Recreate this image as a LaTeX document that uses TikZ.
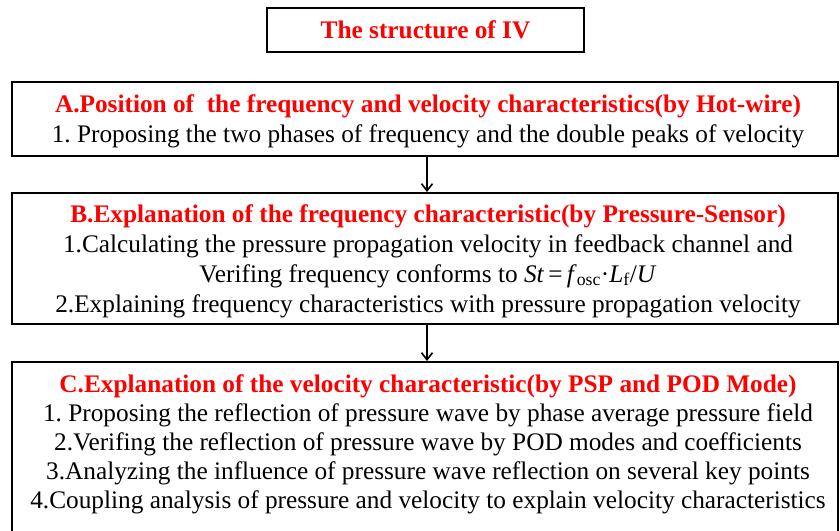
\documentclass[tikz,border=0pt]{standalone}
\usepackage{fontspec}
\setmainfont{Liberation Serif}
\usetikzlibrary{arrows.meta}
\definecolor{hred}{RGB}{255,0,0}
\tikzset{
  boxA/.style={draw=black, line width=2.6pt, minimum width=826pt, inner sep=0pt},
  boxB/.style={draw=black, line width=2pt, minimum width=826pt, inner sep=0pt},
  txt/.style={align=center, inner sep=0pt, font=\fontsize{25.3}{30}\selectfont\frenchspacing},
  conn/.style={line width=1.6pt, -{Straight Barb[length=7pt,width=11pt,line width=1.6pt]}}
}
\begin{document}
\begin{tikzpicture}[x=1pt,y=-1pt]
\useasboundingbox (0,0) rectangle (840,530);
% title
\node[draw=black, line width=2.6pt, minimum width=317pt, minimum height=44pt, inner sep=0pt,
      text=hred, font=\fontsize{25.3}{28}\selectfont\bfseries] (title) at (425.5,30) {The structure of IV};
% boxes
\node[boxA, minimum height=74pt] (A) at (425,119) {};
\node[boxB, minimum height=131pt] (B) at (425,258.5) {};
\node[boxB, minimum height=210pt] (C) at (425,467) {};
% texts (base anchor = baseline of last line)
\node[txt, anchor=base] (tA) at (428,142) {{\bfseries\color{hred}A.Position of\ \ the frequency and velocity characteristics(by Hot-wire)}\\
1. Proposing the two phases of frequency and the double peaks of velocity};
\node[txt, anchor=base] (tB) at (428,312) {{\bfseries\color{hred}B.Explanation of the frequency characteristic(by Pressure-Sensor)}\\
1.Calculating the pressure propagation velocity in feedback channel and\\
Verifing frequency conforms to \textit{St}\,=\,\textit{f}\textsubscript{osc}·\textit{L}\textsubscript{f}/\textit{U}\\
2.Explaining frequency characteristics with pressure propagation velocity};
\node[txt, anchor=base, font=\fontsize{25.3}{29}\selectfont\frenchspacing] (tC) at (428,508) {{\bfseries\color{hred}C.Explanation of the velocity characteristic(by PSP and POD Mode)}\\
1. Proposing the reflection of pressure wave by phase average pressure field\\
2.Verifing the reflection of pressure wave by POD modes and coefficients\\
3.Analyzing the influence of pressure wave reflection on several key points\\
4.Coupling analysis of pressure and velocity to explain velocity characteristics};
% connectors
\draw[conn] (A.south -| 427,0) -- (B.north -| 427,0);
\draw[conn] (B.south -| 427,0) -- (C.north -| 427,0);
\end{tikzpicture}
\end{document}
